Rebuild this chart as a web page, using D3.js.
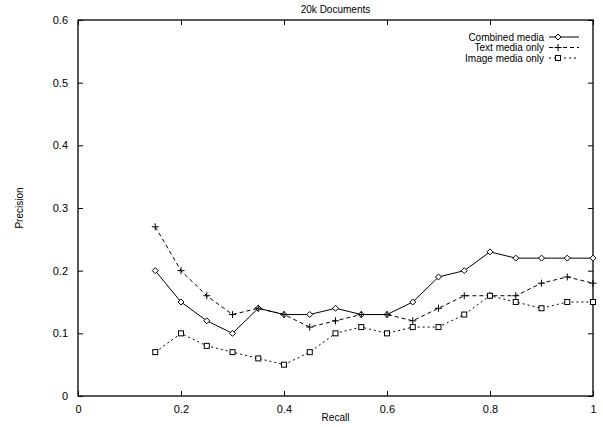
<!DOCTYPE html>
<html>
<head>
<meta charset="utf-8">
<script src="https://cdn.jsdelivr.net/npm/d3@7"></script>
<style>
  body { margin: 0; background: #fff; }
  svg { display: block; font-family: "Liberation Sans", Arial, sans-serif; }
  .tick text { font-size: 11px; fill: #000; }
</style>
</head>
<body>
<div id="chart"></div>
<script>
const recall = [0.15, 0.2, 0.25, 0.3, 0.35, 0.4, 0.45, 0.5, 0.55, 0.6, 0.65, 0.7, 0.75, 0.8, 0.85, 0.9, 0.95, 1.0];
const combined = [0.20, 0.15, 0.12, 0.10, 0.14, 0.13, 0.13, 0.14, 0.13, 0.13, 0.15, 0.19, 0.20, 0.23, 0.22, 0.22, 0.22, 0.22];
const textOnly = [0.27, 0.20, 0.16, 0.13, 0.14, 0.13, 0.11, 0.12, 0.13, 0.13, 0.12, 0.14, 0.16, 0.16, 0.16, 0.18, 0.19, 0.18];
const imageOnly = [0.07, 0.10, 0.08, 0.07, 0.06, 0.05, 0.07, 0.10, 0.11, 0.10, 0.11, 0.11, 0.13, 0.16, 0.15, 0.14, 0.15, 0.15];
const xTicks = [0, 0.2, 0.4, 0.6, 0.8, 1];
const yTicks = [0, 0.1, 0.2, 0.3, 0.4, 0.5, 0.6];

const width = 603,
  height = 427,
  margin = { top: 20, right: 10, bottom: 31, left: 78 };

const svg = d3.select("#chart")
  .append("svg")
  .attr("width", width)
  .attr("height", height);

const x = d3.scaleLinear([0, 1], [margin.left, width - margin.right]);
const y = d3.scaleLinear([0, 0.6], [height - margin.bottom, margin.top]);

const fmt = d => d === 0 ? "0" : d === 1 ? "1" : d3.format(".1f")(d);

// axes, ticks pointing inward on all four sides
svg.append("g")
  .attr("transform", `translate(0,${height - margin.bottom})`)
  .call(d3.axisBottom(x).tickValues(xTicks).tickFormat(fmt).tickSizeInner(-5).tickSizeOuter(0).tickPadding(9));
svg.append("g")
  .attr("transform", `translate(0,${margin.top})`)
  .call(d3.axisTop(x).tickValues(xTicks).tickFormat("").tickSizeInner(-5).tickSizeOuter(0));
svg.append("g")
  .attr("transform", `translate(${margin.left},0)`)
  .call(d3.axisLeft(y).tickValues(yTicks).tickFormat(fmt).tickSizeInner(-5).tickSizeOuter(0).tickPadding(10));
svg.append("g")
  .attr("transform", `translate(${width - margin.right},0)`)
  .call(d3.axisRight(y).tickValues(yTicks).tickFormat("").tickSizeInner(-5).tickSizeOuter(0));

svg.selectAll(".domain").remove();
svg.selectAll(".tick line").attr("stroke", "#000");

svg.append("rect")
  .attr("x", margin.left)
  .attr("y", margin.top)
  .attr("width", width - margin.left - margin.right)
  .attr("height", height - margin.top - margin.bottom)
  .attr("fill", "none")
  .attr("stroke", "#000")
  .attr("stroke-width", 1.3);

svg.append("text")
  .attr("x", (margin.left + width - margin.right) / 2)
  .attr("y", 13)
  .attr("text-anchor", "middle")
  .attr("font-size", 10)
  .text("20k Documents");

svg.append("text")
  .attr("x", (margin.left + width - margin.right) / 2)
  .attr("y", 421)
  .attr("text-anchor", "middle")
  .attr("font-size", 10)
  .text("Recall");

svg.append("text")
  .attr("transform", `translate(23,${(margin.top + height - margin.bottom) / 2}) rotate(-90)`)
  .attr("text-anchor", "middle")
  .attr("font-size", 10)
  .text("Precision");

const series = [
  { name: "Combined media", values: combined, dash: null, marker: "diamond" },
  { name: "Text media only", values: textOnly, dash: "4,3", marker: "plus" },
  { name: "Image media only", values: imageOnly, dash: "2,3", marker: "square" }
];

function drawMarker(g, type, cx, cy) {
  if (type === "diamond") {
    g.append("path")
      .attr("d", `M${cx},${cy - 3}L${cx + 3},${cy}L${cx},${cy + 3}L${cx - 3},${cy}Z`)
      .attr("fill", "#fff").attr("stroke", "#000");
  } else if (type === "plus") {
    g.append("path")
      .attr("d", `M${cx - 3.5},${cy}H${cx + 3.5}M${cx},${cy - 3.5}V${cy + 3.5}`)
      .attr("stroke", "#000");
  } else {
    g.append("rect")
      .attr("x", cx - 2.5).attr("y", cy - 2.5)
      .attr("width", 5).attr("height", 5)
      .attr("fill", "#fff").attr("stroke", "#000");
  }
}

const line = d3.line()
  .x((d, i) => x(recall[i]))
  .y(d => y(d));

series.forEach((s, k) => {
  svg.append("path")
    .datum(s.values)
    .attr("d", line)
    .attr("fill", "none")
    .attr("stroke", "#000")
    .attr("stroke-width", 1)
    .attr("stroke-dasharray", s.dash);

  const mg = svg.append("g");
  s.values.forEach((v, i) => drawMarker(mg, s.marker, x(recall[i]), y(v)));

  // legend
  const ly = 37 + k * 10.5;
  svg.append("text")
    .attr("x", 544)
    .attr("y", ly + 3.5)
    .attr("text-anchor", "end")
    .attr("font-size", 10)
    .text(s.name);
  svg.append("line")
    .attr("x1", 549).attr("x2", 579)
    .attr("y1", ly).attr("y2", ly)
    .attr("stroke", "#000")
    .attr("stroke-dasharray", s.dash);
  drawMarker(svg, s.marker, 558, ly);
});
</script>
</body>
</html>
